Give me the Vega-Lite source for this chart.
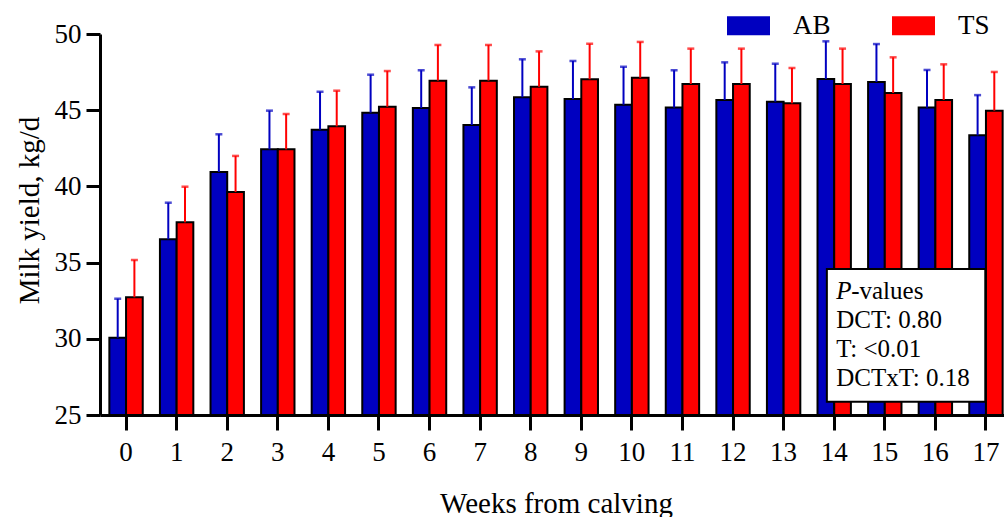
{
  "$schema": "https://vega.github.io/schema/vega-lite/v6.json",
  "width": 904,
  "height": 381,
  "autosize": {"type": "none"},
  "padding": {"left": 100, "top": 34, "right": 0, "bottom": 102},
  "background": "white",
  "config": {
    "view": {"stroke": null},
    "font": "Liberation Serif",
    "axis": {"grid": false, "domainColor": "black", "domainWidth": 3, "tickColor": "black", "tickWidth": 3, "labelColor": "black", "titleColor": "black", "labelFont": "Liberation Serif", "titleFont": "Liberation Serif", "titleFontWeight": "normal"}
  },
  "data": {
    "values": [
      {"week": 0, "group": "AB", "mean": 30.07, "upper": 32.63},
      {"week": 0, "group": "TS", "mean": 32.72, "upper": 35.17},
      {"week": 1, "group": "AB", "mean": 36.53, "upper": 38.93},
      {"week": 1, "group": "TS", "mean": 37.64, "upper": 39.98},
      {"week": 2, "group": "AB", "mean": 40.94, "upper": 43.42},
      {"week": 2, "group": "TS", "mean": 39.63, "upper": 42.0},
      {"week": 3, "group": "AB", "mean": 42.43, "upper": 44.97},
      {"week": 3, "group": "TS", "mean": 42.43, "upper": 44.75},
      {"week": 4, "group": "AB", "mean": 43.72, "upper": 46.21},
      {"week": 4, "group": "TS", "mean": 43.94, "upper": 46.28},
      {"week": 5, "group": "AB", "mean": 44.84, "upper": 47.33},
      {"week": 5, "group": "TS", "mean": 45.23, "upper": 47.57},
      {"week": 6, "group": "AB", "mean": 45.14, "upper": 47.62},
      {"week": 6, "group": "TS", "mean": 46.94, "upper": 49.28},
      {"week": 7, "group": "AB", "mean": 44.03, "upper": 46.5},
      {"week": 7, "group": "TS", "mean": 46.94, "upper": 49.28},
      {"week": 8, "group": "AB", "mean": 45.85, "upper": 48.34},
      {"week": 8, "group": "TS", "mean": 46.54, "upper": 48.86},
      {"week": 9, "group": "AB", "mean": 45.73, "upper": 48.23},
      {"week": 9, "group": "TS", "mean": 47.03, "upper": 49.36},
      {"week": 10, "group": "AB", "mean": 45.36, "upper": 47.85},
      {"week": 10, "group": "TS", "mean": 47.13, "upper": 49.48},
      {"week": 11, "group": "AB", "mean": 45.17, "upper": 47.62},
      {"week": 11, "group": "TS", "mean": 46.72, "upper": 49.04},
      {"week": 12, "group": "AB", "mean": 45.67, "upper": 48.14},
      {"week": 12, "group": "TS", "mean": 46.72, "upper": 49.04},
      {"week": 13, "group": "AB", "mean": 45.56, "upper": 48.05},
      {"week": 13, "group": "TS", "mean": 45.45, "upper": 47.77},
      {"week": 14, "group": "AB", "mean": 47.05, "upper": 49.52},
      {"week": 14, "group": "TS", "mean": 46.72, "upper": 49.04},
      {"week": 15, "group": "AB", "mean": 46.85, "upper": 49.34},
      {"week": 15, "group": "TS", "mean": 46.13, "upper": 48.47},
      {"week": 16, "group": "AB", "mean": 45.17, "upper": 47.64},
      {"week": 16, "group": "TS", "mean": 45.67, "upper": 48.01},
      {"week": 17, "group": "AB", "mean": 43.35, "upper": 45.99},
      {"week": 17, "group": "TS", "mean": 44.97, "upper": 47.51}
    ]
  },
  "encoding": {
    "x": {
      "field": "week", "type": "ordinal",
      "scale": {"range": [0, 912], "paddingInner": 0.34, "paddingOuter": 0.185},
      "axis": {"title": "Weeks from calving", "labelAngle": 0, "labelFontSize": 27, "titleFontSize": 29, "tickSize": 15, "labelPadding": 9, "titlePadding": 24}
    },
    "y": {
      "type": "quantitative",
      "scale": {"domain": [25, 50], "nice": false, "zero": false},
      "axis": {"title": "Milk yield, kg/d", "values": [25, 30, 35, 40, 45, 50], "labelFontSize": 27, "titleFontSize": 29, "tickSize": 14, "labelPadding": 5, "titlePadding": 10, "titleY": 176}
    }
  },
  "layer": [
    {
      "mark": {"type": "bar", "stroke": "black", "strokeWidth": 2},
      "encoding": {
        "y": {"field": "mean", "type": "quantitative"},
        "y2": {"datum": 25},
        "xOffset": {"field": "group", "type": "nominal", "scale": {"paddingInner": 0, "paddingOuter": 0}},
        "color": {
          "field": "group", "type": "nominal",
          "scale": {"domain": ["AB", "TS"], "range": ["#0000C0", "#FF0000"]},
          "legend": {
            "title": null, "orient": "none", "direction": "horizontal", "legendX": 627, "legendY": -30,
            "symbolType": "M-1,-0.42H1V0.42H-1Z", "symbolSize": 1681, "symbolStrokeColor": "black", "symbolStrokeWidth": 2, "symbolOpacity": 1,
            "labelFont": "Liberation Serif", "labelFontSize": 27, "labelColor": "black", "labelOffset": 23, "columnPadding": 58,
            "encode": {"symbols": {"update": {"stroke": {"value": "black"}, "strokeWidth": {"value": 2}, "strokeOpacity": {"value": 1}}}}
          }
        }
      }
    },
    {
      "mark": {"type": "rule", "strokeWidth": 2},
      "encoding": {
        "y": {"field": "mean", "type": "quantitative"},
        "y2": {"field": "upper"},
        "xOffset": {"field": "group", "type": "nominal"},
        "stroke": {"field": "group", "type": "nominal", "scale": {"domain": ["AB", "TS"], "range": ["#0000C0", "#FF0000"]}, "legend": null}
      }
    },
    {
      "mark": {"type": "tick", "size": 7, "thickness": 2.5},
      "encoding": {
        "y": {"field": "upper", "type": "quantitative"},
        "xOffset": {"field": "group", "type": "nominal"},
        "fill": {"field": "group", "type": "nominal", "scale": {"domain": ["AB", "TS"], "range": ["#0000C0", "#FF0000"]}, "legend": null}
      }
    },
    {
      "data": {"values": [{}]},
      "mark": {"type": "rect", "fill": "white", "stroke": "black", "strokeWidth": 2},
      "encoding": {
        "x": {"datum": 14, "bandPosition": 0.28},
        "x2": {"datum": 17, "bandPosition": 0.48},
        "y": {"datum": 34.58},
        "y2": {"datum": 25.87}
      }
    },
    {
      "data": {"values": [{}]},
      "mark": {"type": "text", "text": "P", "fontStyle": "italic", "fontSize": 25, "align": "left", "baseline": "alphabetic", "dx": 2, "color": "black"},
      "encoding": {"x": {"datum": 14}, "y": {"datum": 32.61}}
    },
    {
      "data": {"values": [{}]},
      "mark": {"type": "text", "text": "-values", "fontSize": 25, "align": "left", "baseline": "alphabetic", "dx": 17, "color": "black"},
      "encoding": {"x": {"datum": 14}, "y": {"datum": 32.61}}
    },
    {
      "data": {"values": [{}]},
      "mark": {"type": "text", "text": ["DCT: 0.80", "T: <0.01", "DCTxT: 0.18"], "lineHeight": 29, "fontSize": 25, "align": "left", "baseline": "alphabetic", "dx": 2, "color": "black"},
      "encoding": {"x": {"datum": 14}, "y": {"datum": 30.69}}
    }
  ]
}
